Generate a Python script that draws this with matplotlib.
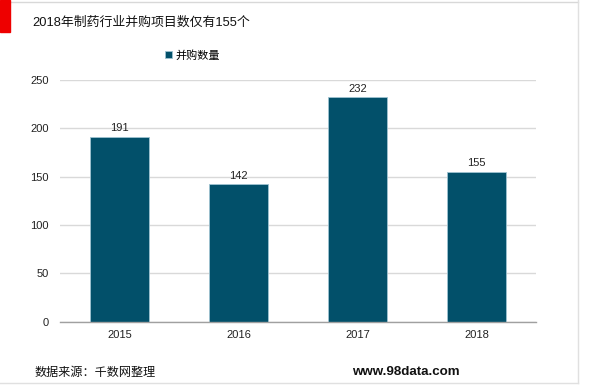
import matplotlib.pyplot as plt
from matplotlib.patches import Rectangle
from matplotlib.lines import Line2D

plt.rcParams['font.family'] = ['Liberation Sans', 'Noto Sans CJK SC', 'DejaVu Sans']

years = ["2015", "2016", "2017", "2018"]
deals = [191, 142, 232, 155]
series_name = "并购数量"
title = "2018年制药行业并购项目数仅有155个"
source = "数据来源：千数网整理"
site = "www.98data.com"

bar_color = "#02506a"

fig = plt.figure(figsize=(6, 3.85), dpi=100)
ax = fig.add_axes([0.1, 0.1644, 0.7933, 0.6278])

x = range(len(years))
bars = ax.bar(x, deals, width=0.5, color=bar_color, edgecolor="#9fc3d1",
              linewidth=0.6, label=series_name, zorder=3)
for xi, v in zip(x, deals):
    ax.text(xi, v + 4, str(v), ha="center", va="bottom", fontsize=8, color="#222222")

ax.set_xlim(-0.5, len(years) - 0.5)
ax.set_ylim(0, 250)
ax.set_yticks(range(0, 251, 50))
ax.set_xticks(list(x))
ax.set_xticklabels(years)
ax.tick_params(axis="both", length=0, labelsize=8, colors="#222222")
ax.tick_params(axis="x", pad=6)
ax.tick_params(axis="y", pad=8)
ax.grid(axis="y", color="#d9d9d9", linewidth=1, zorder=0)
for s in ["top", "right", "left"]:
    ax.spines[s].set_visible(False)
ax.spines["bottom"].set_color("#a0a0a0")
ax.spines["bottom"].set_linewidth(1)
ax.spines["bottom"].set_zorder(4)

ax.legend(loc="center left", bbox_to_anchor=(0.2, 1.103), frameon=False,
          handlelength=0.6, handleheight=0.6, handletextpad=0.3,
          prop={"family": ["Noto Sans CJK SC"], "size": 8})

# decoration: red marker, frame lines
fig.patches.append(Rectangle((0, 1 - 32 / 385), 10 / 600, 32 / 385,
                             transform=fig.transFigure, color="#ee0000", zorder=5))
fig.lines.append(Line2D([10 / 600, 578 / 600], [1 - 1.5 / 385, 1 - 1.5 / 385],
                        transform=fig.transFigure, color="#d8d8d8", linewidth=1))
fig.lines.append(Line2D([578 / 600, 578 / 600], [1 - 383 / 385, 1], transform=fig.transFigure,
                        color="#e0e0e0", linewidth=1))
fig.lines.append(Line2D([0, 578 / 600], [1 - 383 / 385, 1 - 383 / 385], transform=fig.transFigure,
                        color="#e0e0e0", linewidth=1))

fig.text(32 / 600, 1 - 23 / 385, title, fontsize=9.3, va="center", ha="left",
         family=["Liberation Sans", "Noto Sans CJK SC"], color="#111111")
fig.text(35 / 600, 1 - 372 / 385, source, fontsize=8.7, va="center", ha="left",
         family=["Noto Sans CJK SC"], color="#111111")
fig.text(352 / 600, 1 - 372 / 385, site, fontsize=9.6, va="center", ha="left",
         fontweight="bold", color="#111111")

fig.savefig("out.png", dpi=100)
